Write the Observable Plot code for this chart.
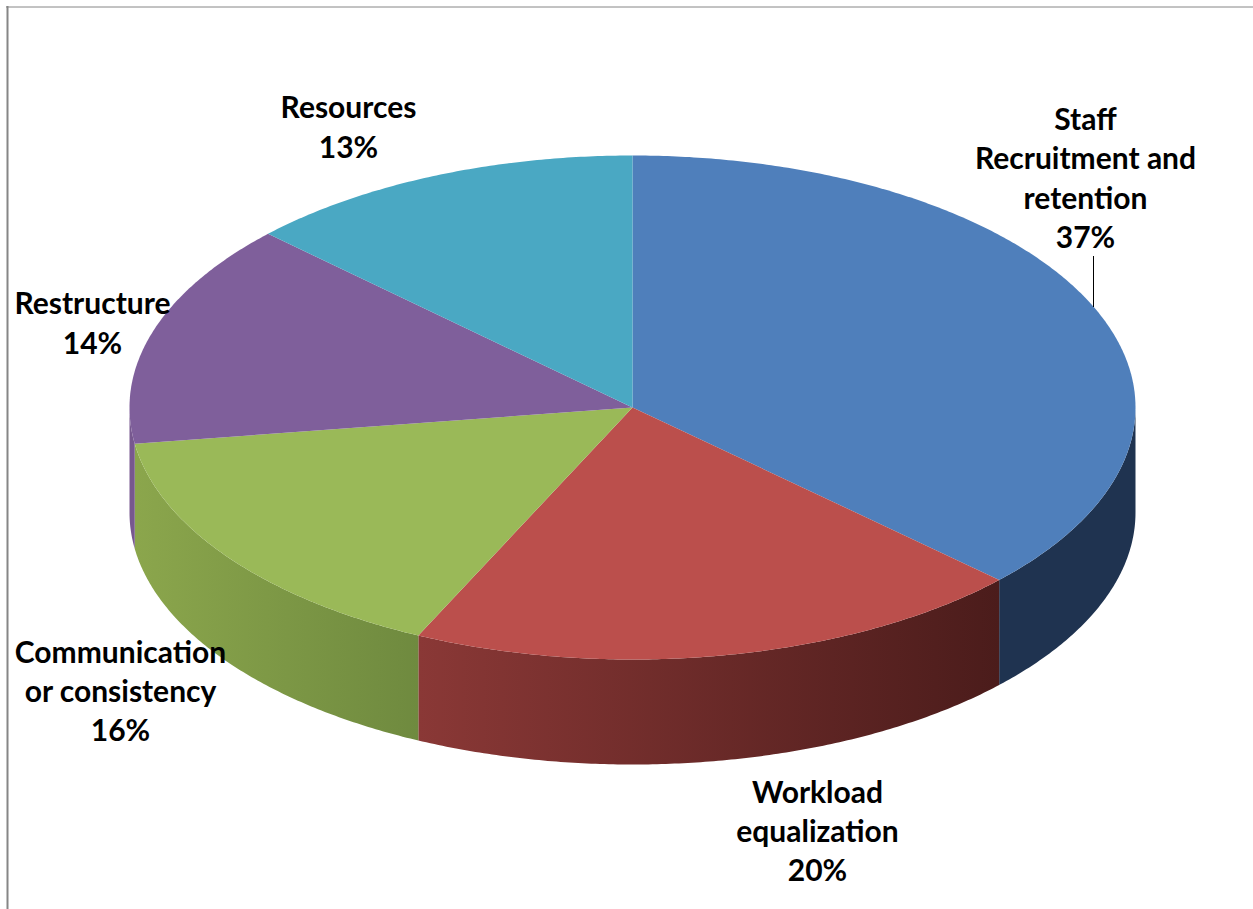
<!DOCTYPE html>
<html>
<head>
<meta charset="utf-8">
<script src="https://cdn.jsdelivr.net/npm/d3@7"></script>
<script src="https://cdn.jsdelivr.net/npm/@observablehq/plot@0.6"></script>
<style>html,body{margin:0;padding:0;background:#fff}svg{display:block}</style>
</head>
<body>
<div id="chart"></div>
<script>
const names = ["Staff\nRecruitment and\nretention", "Workload\nequalization", "Communication\nor consistency", "Restructure", "Resources"];
const shares = [37, 20, 15.7, 14.4, 12.9];
const topColors = ["#4f7fbb", "#bb4f4c", "#9ab958", "#7f5f9b", "#4aa8c3"];
const sideStops = [["#1f3350", "#1f3350"], ["#8a3836", "#4b1c1b"], ["#8ba64c", "#6f8a3f"], ["#77588f", "#77588f"], ["#3a8aa0", "#3a8aa0"]];

// Layout of the tilted disc and of the labels around it
const cx = 632, cy = 407, rx = 503, ry = 252, depth = 105;
const labelAnchors = [[1085, 178], [817, 831], [120, 691], [92, 323], [348, 127]];

const rad = d => d * Math.PI / 180;
const rim = (deg, dy = 0) => ({x: cx + rx * Math.sin(rad(deg)), y: cy - ry * Math.cos(rad(deg)) + dy});
const arc = (a0, a1) => d3.range(a0, a1, 0.5).concat(a1);

let acc = 0;
const slices = shares.map((v, i) => {
  const a0 = acc * 3.6; acc += v;
  return {i, a0, a1: acc * 3.6};
});

const topPoints = slices.flatMap(s =>
  [{x: cx, y: cy}, ...arc(s.a0, s.a1).map(a => rim(a))].map(p => ({...p, slice: s.i})));

const sidePolygon = s => {
  const a0 = Math.max(s.a0, 90), a1 = Math.min(s.a1, 270);
  if (a1 <= a0) return null;
  const r = arc(a0, a1);
  return [...r.map(a => rim(a)), ...r.slice().reverse().map(a => rim(a, depth))];
};

const defs = () => {
  const d = d3.create("svg:defs");
  sideStops.forEach((st, i) => {
    const g = d.append("linearGradient").attr("id", `side${i}`).attr("x1", 0).attr("x2", 1).attr("y1", 0).attr("y2", 0);
    g.append("stop").attr("offset", 0).attr("stop-color", st[0]);
    g.append("stop").attr("offset", 1).attr("stop-color", st[1]);
  });
  return d.node();
};

const labels = names.map((n, i) => ({
  text: `${n}\n${Math.round(shares[i])}%`, x: labelAnchors[i][0], y: labelAnchors[i][1]
}));

const sideMarks = slices.map(s => {
  const poly = sidePolygon(s);
  return poly ? Plot.line(poly, {x: "x", y: "y", fill: `url(#side${s.i})`, stroke: "none"}) : null;
}).filter(Boolean);

const chart = Plot.plot({
  width: 1253, height: 909,
  margin: 0,
  x: {domain: [0, 1253], range: [0, 1253], axis: null},
  y: {domain: [0, 909], range: [0, 909], axis: null},
  color: {domain: d3.range(names.length), range: topColors, type: "ordinal"},
  style: {background: "#fff"},
  marks: [
    defs,
    Plot.ruleY([6.5], {x1: 6, x2: 1253, stroke: "#868686", strokeWidth: 1}),
    Plot.ruleX([7], {y1: 6, y2: 909, stroke: "#868686", strokeWidth: 2}),
    ...sideMarks,
    Plot.line(topPoints, {x: "x", y: "y", z: "slice", fill: "slice", stroke: "none"}),
    Plot.ruleX([1093], {y1: 256, y2: 307, stroke: "#000", strokeWidth: 1}),
    Plot.text(labels, {
      x: "x", y: "y", text: "text",
      fontFamily: "Lato", fontWeight: 700, fontSize: 30,
      lineHeight: 1.31, textAnchor: "middle", frameAnchor: "middle", fill: "#000", dy: -2
    })
  ]
});
document.getElementById("chart").append(chart);
</script>
</body>
</html>
